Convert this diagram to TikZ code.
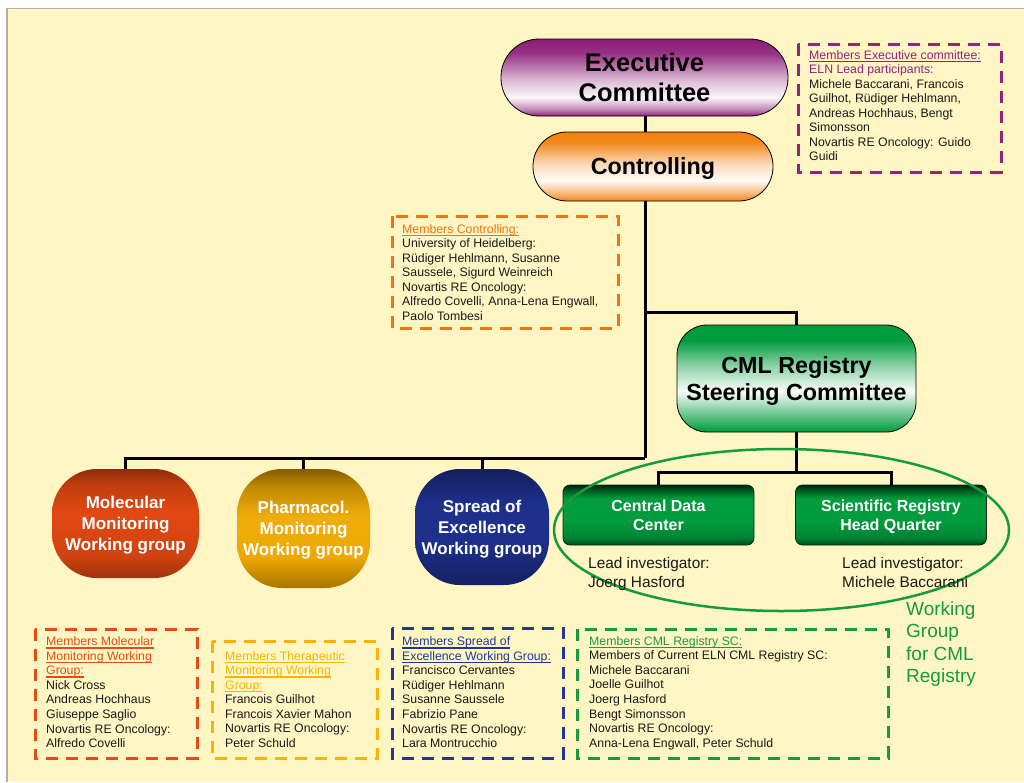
\documentclass[tikz,border=0pt]{standalone}
\usepackage{fontspec}
\setmainfont{Liberation Sans}
\usetikzlibrary{shapes.geometric}
\definecolor{bgy}{RGB}{255,246,196}
\definecolor{bgline}{RGB}{175,175,175}
\definecolor{execP}{RGB}{140,30,120}
\definecolor{ctrlO}{RGB}{242,128,15}
\definecolor{cmlG}{RGB}{0,155,60}
\definecolor{molR}{RGB}{226,72,18}
\definecolor{phY}{RGB}{238,168,0}
\definecolor{spB}{RGB}{30,48,140}
\definecolor{execD}{RGB}{145,35,125}
\definecolor{ctrlD}{RGB}{240,115,20}
\definecolor{molD}{RGB}{230,75,20}
\definecolor{thD}{RGB}{248,180,0}
\definecolor{spD}{RGB}{35,55,145}
\definecolor{cmlD}{RGB}{20,155,60}
\definecolor{txt}{RGB}{25,25,25}
\pgfdeclareverticalshading{execsh}{100bp}{color(0bp)=(execP); color(25bp)=(execP); color(29bp)=(execP!55); color(37bp)=(execP!4); color(48bp)=(execP!30); color(66bp)=(execP!92); color(75bp)=(execP); color(100bp)=(execP)}
\pgfdeclareverticalshading{ctrlsh}{100bp}{color(0bp)=(ctrlO); color(25bp)=(ctrlO); color(30bp)=(ctrlO!60); color(40bp)=(ctrlO!3); color(52bp)=(ctrlO!30); color(68bp)=(ctrlO!95); color(75bp)=(ctrlO); color(100bp)=(ctrlO)}
\pgfdeclareverticalshading{cmlsh}{100bp}{color(0bp)=(cmlG); color(25bp)=(cmlG); color(31bp)=(cmlG!70); color(44bp)=(cmlG!3); color(56bp)=(cmlG!45); color(68bp)=(cmlG); color(100bp)=(cmlG)}
\pgfdeclareverticalshading{dgsh}{100bp}{color(0bp)=(cmlG!45!black); color(25bp)=(cmlG!45!black); color(31bp)=(cmlG!85!black); color(45bp)=(cmlG); color(64bp)=(cmlG); color(71bp)=(cmlG!55!black); color(75bp)=(cmlG!20!black); color(100bp)=(cmlG!20!black)}
\pgfdeclareverticalshading{molsh}{100bp}{color(0bp)=(molR!70!black); color(25bp)=(molR!70!black); color(35bp)=(molR!92!black); color(55bp)=(molR); color(68bp)=(molR!85!black); color(75bp)=(molR!62!black); color(100bp)=(molR!62!black)}
\pgfdeclareverticalshading{phsh}{100bp}{color(0bp)=(phY!70!black); color(25bp)=(phY!70!black); color(38bp)=(phY); color(55bp)=(phY!95!white); color(68bp)=(phY!80!black); color(75bp)=(phY!55!black); color(100bp)=(phY!55!black)}
\pgfdeclareverticalshading{spsh}{100bp}{color(0bp)=(spB!70!black); color(25bp)=(spB!70!black); color(45bp)=(spB); color(60bp)=(spB); color(75bp)=(spB!65!black); color(100bp)=(spB!65!black)}
\newcommand{\ulc}[1]{\setbox0\hbox{#1}\rlap{\rule[-3pt]{\wd0}{1.4pt}}\box0}
\tikzset{
  conn/.style={line width=3pt, black},
  capsule/.style={draw=black, line width=0.8pt, align=center, inner sep=0pt, text depth=0pt},
  greenbox/.style={draw=cmlG!30!black, line width=0.8pt, rounded corners=7pt, shading=dgsh,
    minimum width=191pt, minimum height=60pt, text=white, text depth=0pt,
    font=\fontsize{16}{19.5}\selectfont\bfseries, align=center, inner sep=0pt},
  blob/.style={rounded corners=45pt, text=white, text depth=0pt,
    font=\fontsize{17}{21}\selectfont\bfseries, align=center, inner sep=0pt},
  membox/.style={dash pattern=on 12pt off 8pt, line width=3pt},
  memtext/.style={anchor=base west, inner sep=0pt, text=txt, font=\fontsize{12.3}{14.55}\selectfont},
}
\begin{document}
\begin{tikzpicture}[x=1pt,y=-1pt]
\useasboundingbox (0,0) rectangle (1024,782);
\fill[white] (0,0) rectangle (1024,782);
\fill[bgy] (7,8.5) rectangle (1024,782);
\draw[bgline, line width=1.5pt] (7,782) -- (7,8.5) -- (1024,8.5);

% main nodes
\node[capsule, shading=execsh, rounded corners=38pt, minimum width=287pt, minimum height=77pt,
  font=\fontsize{25.5}{30}\selectfont\bfseries] (exec) at (644.5,77.5) {Executive\\Committee};
\node[capsule, shading=ctrlsh, rounded corners=34pt, minimum width=240pt, minimum height=69pt,
  font=\fontsize{23.3}{28}\selectfont\bfseries] (ctrl) at (653,166.5) {Controlling};
\node[capsule, shading=cmlsh, rounded corners=30pt, minimum width=239pt, minimum height=107pt,
  font=\fontsize{23.3}{27.7}\selectfont\bfseries] (cml) at (796.5,378.5) {CML Registry\\Steering Committee};
\node[greenbox] (cdc) at (658.5,515) {Central Data\\Center};
\node[greenbox] (srh) at (891,515) {Scientific Registry\\Head Quarter};
\node[blob, shading=molsh, minimum width=147pt, minimum height=109pt] (mol) at (125.5,523.5) {Molecular\\Monitoring\\Working group};
\node[blob, shading=phsh, minimum width=133pt, minimum height=119pt] (pharm) at (303.5,528.5) {Pharmacol.\\Monitoring\\Working group};
\node[blob, shading=spsh, minimum width=134pt, minimum height=116pt] (spread) at (482,527) {Spread of\\Excellence\\Working group};

% connectors
\coordinate (j1) at (645,312);
\coordinate (j2) at (645,458);
\draw[conn] (exec.south -| j1) -- (ctrl.north -| j1);
\draw[conn] (ctrl.south -| j1) -- (j2);
\draw[conn] (j1) -| (cml.north);
\draw[conn] (j2) -| (mol.north);
\draw[conn] (j2 -| pharm.north) -- (pharm.north);
\draw[conn] (j2 -| spread.north) -- (spread.north);
\draw[conn] (cml.south) -- ++(0,40) coordinate (j3);
\draw[conn] (cdc.north) |- (j3) -| (srh.north);

% working group ellipse
\node[draw=cmlD, line width=2.5pt, ellipse, minimum width=455pt, minimum height=162pt, inner sep=0pt] (wg) at (781.5,530) {};
\node[anchor=base west, inner sep=0pt, font=\fontsize{15.4}{19.4}\selectfont, text=txt] (li1) at (588,568.3)
  {\begin{tabular}[t]{@{}l@{}}Lead investigator:\\Joerg Hasford\end{tabular}};
\node[anchor=base west, inner sep=0pt, font=\fontsize{15.4}{19.4}\selectfont, text=txt] (li2) at (842,568.3)
  {\begin{tabular}[t]{@{}l@{}}Lead investigator:\\Michele Baccarani\end{tabular}};
\node[anchor=base west, inner sep=0pt, font=\fontsize{19}{22.6}\selectfont, text=cmlD] (wgt) at (906,615)
  {\begin{tabular}[t]{@{}l@{}}Working\\Group\\for CML\\Registry\end{tabular}};

% member boxes
\draw[membox, draw=execD] (798,44) rectangle (1001,172);
\node[memtext] (mexec) at (809,59) {\begin{tabular}[t]{@{}l@{}}
{\color{execD}\ulc{Members Executive committee:}}\\
{\color{execD}ELN Lead participants:}\\
Michele Baccarani, Francois\\
Guilhot, Rüdiger Hehlmann,\\
Andreas Hochhaus, Bengt\\
Simonsson\\
Novartis RE Oncology: Guido\\
Guidi\end{tabular}};

\draw[membox, draw=ctrlD] (392,216) rectangle (618,328);
\node[memtext] (mctrl) at (402,233) {\begin{tabular}[t]{@{}l@{}}
{\color{ctrlD}\ulc{Members Controlling:}}\\
University of Heidelberg:\\
Rüdiger Hehlmann, Susanne\\
Saussele, Sigurd Weinreich\\
Novartis RE Oncology:\\
Alfredo Covelli, Anna-Lena Engwall,\\
Paolo Tombesi\end{tabular}};

\draw[membox, draw=molD] (35,629) rectangle (197,758);
\node[memtext] (mmol) at (46,645.7) {\begin{tabular}[t]{@{}l@{}}
{\color{molD}\ulc{Members Molecular}}\\
{\color{molD}\ulc{Monitoring Working}}\\
{\color{molD}\ulc{Group:}}\\
Nick Cross\\
Andreas Hochhaus\\
Giuseppe Saglio\\
Novartis RE Oncology:\\
Alfredo Covelli\end{tabular}};

\draw[membox, draw=thD] (212,641) rectangle (377,758);
\node[memtext] (mth) at (225,660) {\begin{tabular}[t]{@{}l@{}}
{\color{thD}\ulc{Members Therapeutic}}\\
{\color{thD}\ulc{Monitoring Working}}\\
{\color{thD}\ulc{Group:}}\\
Francois Guilhot\\
Francois Xavier Mahon\\
Novartis RE Oncology:\\
Peter Schuld\end{tabular}};

\draw[membox, draw=spD] (392,628) rectangle (563,758);
\node[memtext] (msp) at (402,645.7) {\begin{tabular}[t]{@{}l@{}}
{\color{spD}\ulc{Members Spread of}}\\
{\color{spD}\ulc{Excellence Working Group:}}\\
Francisco Cervantes\\
Rüdiger Hehlmann\\
Susanne Saussele\\
Fabrizio Pane\\
Novartis RE Oncology:\\
Lara Montrucchio\end{tabular}};

\draw[membox, draw=cmlD] (577,629) rectangle (888,758);
\node[memtext] (mcml) at (589,645.3) {\begin{tabular}[t]{@{}l@{}}
{\color{cmlD}\ulc{Members CML Registry SC:}}\\
Members of Current ELN CML Registry SC:\\
Michele Baccarani\\
Joelle Guilhot\\
Joerg Hasford\\
Bengt Simonsson\\
Novartis RE Oncology:\\
Anna-Lena Engwall, Peter Schuld\end{tabular}};
\end{tikzpicture}
\end{document}
